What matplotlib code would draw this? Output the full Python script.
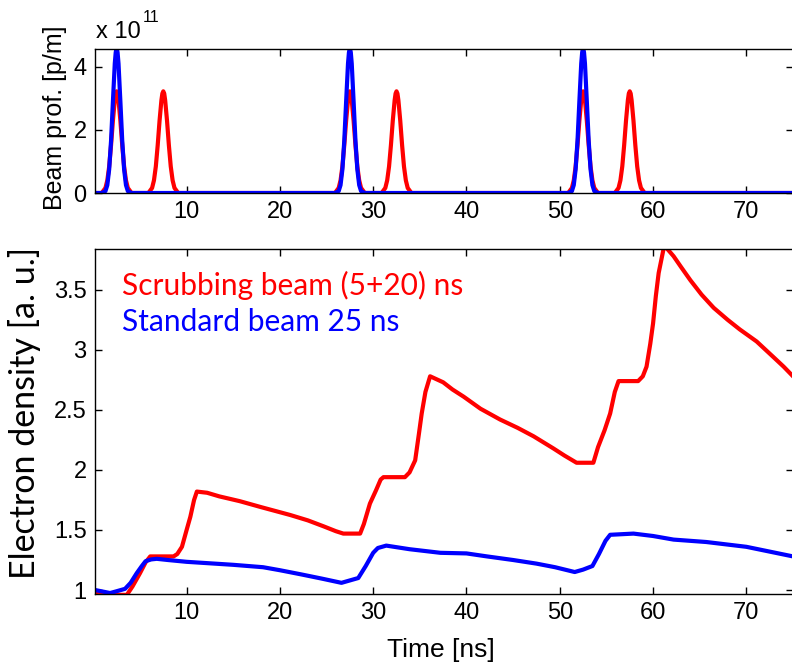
import numpy as np
import matplotlib
matplotlib.use("Agg")
import matplotlib.pyplot as plt

plt.rcParams['font.family'] = ['Liberation Sans', 'DejaVu Sans']

# beam profile: one bunch shape, placed at each bunch time
pulse_dt = [-1.6, -1.2, -1.0, -0.8, -0.6, -0.4, -0.2, -0.1, 0.0, 0.1, 0.2, 0.4, 0.6, 0.8, 1.0, 1.2, 1.6]
blue_pulse = [0.0, 0.06, 0.25, 0.75, 1.65, 2.9, 4.1, 4.45, 4.6, 4.45, 4.1, 2.9, 1.65, 0.75, 0.25, 0.06, 0.0]
red_pulse = [0.0, 0.16, 0.40, 0.84, 1.51, 2.29, 2.94, 3.15, 3.22, 3.15, 2.94, 2.29, 1.51, 0.84, 0.40, 0.16, 0.0]
blue_bunches = [2.5, 27.5, 52.5]
red_bunches = [2.5, 7.5, 27.5, 32.5, 52.5, 57.5]

# electron density (a.u.)
red_t = [0.2, 1.5, 3.6, 4.2, 5.0, 5.6, 6.1, 8.6, 9.0, 9.5, 10.0, 10.4, 10.8, 11.1, 12.2, 13.5,
         15.7, 18.0, 21.1, 23.0, 24.7, 26.0, 26.8, 28.6, 29.0, 29.65, 30.3, 30.8, 31.1, 33.4,
         33.9, 34.5, 34.9, 35.2, 35.6, 36.1, 37.5, 38.5, 39.7, 41.5, 43.6, 45.5, 47.2, 49.3,
         50.5, 51.8, 53.6, 54.1, 54.8, 55.4, 55.9, 56.3, 58.4, 58.9, 59.3, 59.7, 60.0, 60.3,
         60.6, 61.2, 62.2, 63.0, 64.0, 65.2, 66.5, 68.0, 69.3, 71.1, 72.9, 74.0, 75.0]
red_n = [0.98, 0.96, 0.96, 1.03, 1.14, 1.23, 1.28, 1.28, 1.30, 1.36, 1.50, 1.61, 1.75, 1.82, 1.81, 1.78,
         1.74, 1.69, 1.625, 1.58, 1.53, 1.49, 1.47, 1.47, 1.55, 1.72, 1.83, 1.92, 1.94, 1.94,
         1.98, 2.08, 2.30, 2.47, 2.65, 2.78, 2.73, 2.67, 2.61, 2.51, 2.42, 2.35, 2.28, 2.18,
         2.12, 2.06, 2.06, 2.19, 2.33, 2.47, 2.65, 2.74, 2.74, 2.78, 2.86, 3.05, 3.22, 3.45,
         3.64, 3.87, 3.78, 3.69, 3.58, 3.46, 3.35, 3.25, 3.17, 3.07, 2.94, 2.86, 2.78]
blue_t = [0.2, 1.8, 2.5, 3.4, 4.0, 4.65, 5.2, 5.6, 6.2, 6.8, 8.0, 10.0, 13.0, 15.0, 18.2, 20.0,
          22.3, 24.5, 26.6, 27.5, 28.4, 29.2, 30.0, 30.5, 31.4, 33.9, 37.2, 40.0, 42.2, 45.0,
          47.5, 49.5, 51.6, 52.5, 53.5, 54.2, 54.9, 55.4, 57.9, 60.0, 62.2, 65.7, 70.0, 72.5, 75.0]
blue_n = [1.0, 0.975, 0.99, 1.01, 1.06, 1.14, 1.20, 1.24, 1.255, 1.26, 1.25, 1.235, 1.22, 1.21, 1.19, 1.165,
          1.13, 1.095, 1.06, 1.08, 1.10, 1.20, 1.31, 1.35, 1.37, 1.34, 1.31, 1.305, 1.28, 1.25,
          1.22, 1.19, 1.15, 1.17, 1.20, 1.30, 1.41, 1.46, 1.47, 1.45, 1.42, 1.40, 1.36, 1.32, 1.28]

def profile(centres, shape):
    t, v = [0.0], [0.0]
    for c in centres:
        t += [c + d for d in pulse_dt]
        v += list(shape)
    t.append(76.0)
    v.append(0.0)
    return np.array(t), np.array(v)

W, H = 792, 662
fig = plt.figure(figsize=(W / 100, H / 100), dpi=100)
ax1 = fig.add_axes([95 / W, 1 - 193 / H, 698 / W, 144 / H])
ax2 = fig.add_axes([95 / W, 1 - 594 / H, 698 / W, 345 / H])

rt, rv = profile(red_bunches, red_pulse)
bt, bv = profile(blue_bunches, blue_pulse)
ax1.plot(rt, rv, color='#ff0000', lw=3)
ax1.plot(bt, bv, color='#0000ff', lw=3)
ax1.set_ylim(0, 4.56)
ax1.set_yticks([0, 2, 4])

ax2.plot(red_t, red_n, color='#ff0000', lw=3)
ax2.plot(blue_t, blue_n, color='#0000ff', lw=3)
ax2.set_ylim(0.967, 3.84)
ax2.set_yticks([1, 1.5, 2, 2.5, 3, 3.5])
ax2.set_yticklabels(['1', '1.5', '2', '2.5', '3', '3.5'])

for ax in (ax1, ax2):
    ax.set_xlim(0.18, 75)
    ax.set_xticks([10, 20, 30, 40, 50, 60, 70])
    ax.tick_params(direction='in', length=5, width=1, top=True, right=True,
                   labelsize=17, pad=6)
    for s in ax.spines.values():
        s.set_linewidth(1)

fig.text(122 / W, 1 - 295 / H, 'Scrubbing beam (5+20) ns', color='#ff0000',
         fontsize=21.5, family=['Lato', 'DejaVu Sans'], va='baseline')
fig.text(122 / W, 1 - 331 / H, 'Standard beam 25 ns', color='#0000ff',
         fontsize=21.5, family=['Lato', 'DejaVu Sans'], va='baseline')

fig.text(25 / W, 1 - 413 / H, 'Electron density [a. u.]', rotation=90,
         fontsize=24.5, family=['Lato', 'DejaVu Sans'], ha='center', va='center')
fig.text(55 / W, 1 - 118 / H, 'Beam prof. [p/m]', rotation=90,
         fontsize=18, ha='center', va='center')
fig.text(441 / W, 1 - 657 / H, 'Time [ns]', fontsize=19, ha='center', va='baseline')
fig.text(96 / W, 1 - 38 / H, 'x 10', fontsize=17, va='baseline')
fig.text(143 / W, 1 - 22 / H, '11', fontsize=11.5, va='baseline')

fig.savefig('out.png', dpi=100)
